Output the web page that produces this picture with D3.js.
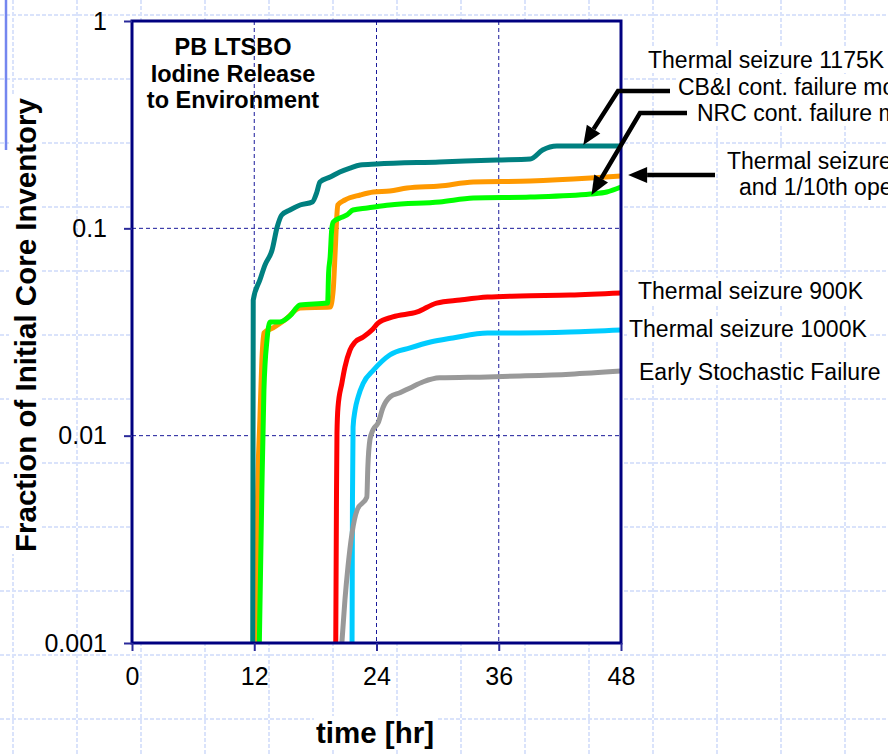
<!DOCTYPE html>
<html>
<head>
<meta charset="utf-8">
<script src="https://cdn.jsdelivr.net/npm/d3@7"></script>
<style>
    body { margin: 0; background: #fff; }
    svg { display: block; font-family: Arial, "Liberation Sans", sans-serif; }
</style>
</head>
<body>
<div class="chart"></div>
<script>
// series, [time hr, fraction of initial core inventory]
const seriesNames = ["Thermal seizure 1000K", "Early Stochastic Failure", "Thermal seizure 900K",
    "1175K, 1/10th open SRV", "1175K, NRC cont. failure model", "1175K, CB&I cont. failure model"];
const seriesColors = ["#00ccff", "#999999", "#ff0000", "#ff9900", "#00ff00", "#008080"];

const seizure1000 = [[21.6, 0.001], [21.64, 0.0049], [21.7, 0.011], [21.9, 0.0133], [22.2, 0.0154],
    [22.7, 0.0179], [23.7, 0.0207], [25.3, 0.0245], [27.3, 0.0265], [29.3, 0.0283], [31.5, 0.0296],
    [34.9, 0.0313], [38.1, 0.0313], [43, 0.0316], [48, 0.0323]];
const stochastic = [[20.6, 0.001], [20.9, 0.00161], [21.2, 0.00233], [21.6, 0.00339], [22.1, 0.00438],
    [23.05, 0.00506], [23.15, 0.00706], [23.35, 0.00953], [23.65, 0.01065], [24.15, 0.0115],
    [24.65, 0.0137], [25.35, 0.0154], [26.3, 0.0161], [27.3, 0.017], [28.6, 0.0182], [30.2, 0.019],
    [34.9, 0.0192], [38.1, 0.0194], [43, 0.0198], [48, 0.0205]];
const seizure900 = [[20.0, 0.001], [20.07, 0.0049], [20.12, 0.0103], [20.22, 0.0137], [20.6, 0.0179],
    [20.9, 0.0214], [21.4, 0.0259], [21.9, 0.0283], [22.7, 0.0299], [23.55, 0.0323], [24.15, 0.0349],
    [25.6, 0.0374], [28, 0.0395], [29.9, 0.0436], [32.2, 0.0451], [34.9, 0.0466], [38.1, 0.0472],
    [43, 0.0477], [48, 0.0488]];
const seizure1175Srv = [[12.22, 0.001], [12.3, 0.0044], [12.55, 0.0119], [12.75, 0.0232], [12.95, 0.0313],
    [13.85, 0.0331], [15.0, 0.0361], [16.5, 0.0413], [19.45, 0.0417], [19.75, 0.0504], [19.95, 0.0786],
    [20.1, 0.1134], [20.2, 0.1296], [20.9, 0.137], [22.4, 0.1448], [23.7, 0.1497], [25.3, 0.1514],
    [27, 0.1564], [30.2, 0.16], [33.5, 0.1673], [39.1, 0.1691], [45, 0.1748], [48, 0.1788]];
const seizure1175Nrc = [[12.5, 0.001], [12.75, 0.0055], [12.95, 0.0166], [13.25, 0.0289], [13.55, 0.0353],
    [14.5, 0.0353], [15.5, 0.0378], [16.5, 0.0427], [19.2, 0.0436], [19.3, 0.0609], [19.45, 0.0727],
    [19.6, 0.0982], [19.75, 0.1073], [20.4, 0.1121], [21.1, 0.116], [21.7, 0.1226], [23.1, 0.1253],
    [25.3, 0.1296], [30.2, 0.134], [33.5, 0.14], [39.1, 0.1416], [45, 0.1464], [46.6, 0.1497], [48, 0.1582]];
const seizure1175Cbi = [[11.85, 0.001], [11.9, 0.0451], [12.55, 0.0563], [13.05, 0.0665], [13.75, 0.0786],
    [14.25, 0.1015], [14.7, 0.116], [15.5, 0.1226], [16.5, 0.1296], [17.7, 0.134], [18.15, 0.1497],
    [18.45, 0.1673], [19.45, 0.1768], [20.4, 0.187], [21.4, 0.1954], [22.4, 0.202], [24, 0.2043],
    [30.2, 0.2089], [35.8, 0.2136], [39.1, 0.216], [40.3, 0.2386], [41.7, 0.2494], [48, 0.2494]];
const seriesValues = [seizure1000, stochastic, seizure900, seizure1175Srv, seizure1175Nrc, seizure1175Cbi];

const xTicks = [0, 12, 24, 36, 48];
const yTicks = [1, 0.1, 0.01, 0.001];
const yTickLabels = ["1", "0.1", "0.01", "0.001"];
const titleLines = ["PB LTSBO", "Iodine Release", "to Environment"];

// label lines on the right, [text, x, baseline]
const sideLabels = [
    ["Thermal seizure 1175K", 648, 68],
    ["CB&I cont. failure model", 678, 95],
    ["NRC cont. failure model", 697, 121],
    ["Thermal seizure 1175K", 727, 169],
    ["and 1/10th open SRV", 739, 195],
    ["Thermal seizure 900K", 638, 299],
    ["Thermal seizure 1000K", 629, 337],
    ["Early Stochastic Failure", 639, 380]
];
// arrows: tip in data units, then the elbow and tail in pixels
const arrows = [
    { tip: [44.3, 0.252], via: [[618, 91], [670, 91]] },
    { tip: [45.1, 0.145], via: [[640, 113], [687, 113]] },
    { tip: [48.7, 0.181], via: [[715, 175]] }
];

const width = 888;
const height = 754;
const plot = { left: 132, right: 621, top: 21, bottom: 643 };

const svg = d3.select(".chart")
    .append("svg")
    .attr("width", width)
    .attr("height", height);

// slide background: light graph paper
const paper = svg.append("g")
    .attr("stroke", "#dae3fb")
    .attr("stroke-width", 2)
    .attr("stroke-dasharray", "4 2");
d3.range(13, width, 64).forEach(gx => {
    paper.append("line").attr("x1", gx).attr("x2", gx).attr("y1", 0).attr("y2", height);
});
d3.range(15, height, 64).forEach(gy => {
    paper.append("line").attr("y1", gy).attr("y2", gy).attr("x1", 0).attr("x2", width);
});
svg.append("line")
    .attr("x1", 6).attr("x2", 6).attr("y1", 0).attr("y2", 150)
    .attr("stroke", "#7486ef").attr("stroke-width", 2.5);

const x = d3.scaleLinear().domain([0, 48]).range([plot.left, plot.right]);
const y = d3.scaleLog().domain([0.001, 1]).range([plot.bottom, plot.top]);

svg.append("rect")
    .attr("x", plot.left).attr("y", plot.top)
    .attr("width", plot.right - plot.left).attr("height", plot.bottom - plot.top)
    .attr("fill", "#fff");

// dashed gridlines inside plot
const grid = svg.append("g")
    .attr("stroke", "#1a1a9a")
    .attr("stroke-width", 1)
    .attr("stroke-dasharray", "4 3");
xTicks.slice(1, -1).forEach(t => {
    grid.append("line").attr("x1", x(t)).attr("x2", x(t)).attr("y1", plot.top).attr("y2", plot.bottom);
});
yTicks.slice(1, -1).forEach(v => {
    grid.append("line").attr("y1", y(v)).attr("y2", y(v)).attr("x1", plot.left).attr("x2", plot.right);
});

// title block
const title = svg.append("text")
    .attr("text-anchor", "middle")
    .attr("font-weight", "bold")
    .attr("font-size", 23.5);
titleLines.forEach((line, i) => {
    title.append("tspan").attr("x", 233).attr("y", 55 + i * 26.5).text(line);
});

// series lines
const lineGen = d3.line()
    .x(d => x(d[0]))
    .y(d => y(d[1]))
    .curve(d3.curveMonotoneX);
svg.append("g")
    .attr("fill", "none")
    .attr("stroke-linejoin", "round")
    .attr("stroke-linecap", "butt")
    .selectAll("path")
    .data(seriesValues)
    .join("path")
    .attr("stroke", (d, i) => seriesColors[i])
    .attr("stroke-width", 5)
    .attr("d", lineGen);

// frame and axes
svg.append("rect")
    .attr("x", plot.left).attr("y", plot.top)
    .attr("width", plot.right - plot.left).attr("height", plot.bottom - plot.top)
    .attr("fill", "none")
    .attr("stroke", "#000080")
    .attr("stroke-width", 3);

const yAxis = svg.append("g")
    .attr("transform", `translate(${plot.left},0)`)
    .call(d3.axisLeft(y).tickValues(yTicks).tickFormat((d, i) => yTickLabels[i])
        .tickSize(8).tickPadding(17));
const xAxis = svg.append("g")
    .attr("transform", `translate(0,${plot.bottom})`)
    .call(d3.axisBottom(x).tickValues(xTicks).tickFormat(d3.format("d"))
        .tickSize(8).tickPadding(16));
[yAxis, xAxis].forEach(ax => {
    ax.select(".domain").remove();
    ax.selectAll("line").attr("stroke", "#2a2a9a").attr("stroke-width", 2);
    ax.selectAll("text")
        .attr("fill", "#000")
        .attr("font-size", 25)
        .attr("font-family", "Arial, 'Liberation Sans', sans-serif");
});

// axis titles
svg.append("text")
    .attr("class", "boxed")
    .attr("transform", "translate(36,325) rotate(-90)")
    .attr("text-anchor", "middle")
    .attr("font-weight", "bold")
    .attr("font-size", 29.5)
    .text("Fraction of Initial Core Inventory");
svg.append("text")
    .attr("class", "boxed")
    .attr("x", 375).attr("y", 743)
    .attr("text-anchor", "middle")
    .attr("font-weight", "bold")
    .attr("font-size", 29.5)
    .text("time [hr]");

// right-hand labels
svg.selectAll("text.side")
    .data(sideLabels)
    .join("text")
    .attr("class", "side boxed")
    .attr("x", d => d[1])
    .attr("y", d => d[2])
    .attr("font-size", 23)
    .text(d => d[0]);

// white boxes behind text sitting on the graph paper
svg.selectAll("text.boxed").each(function () {
    const box = this.getBBox();
    const tr = this.getAttribute("transform");
    d3.select(this.parentNode).insert("rect", () => this)
        .attr("x", box.x - 2).attr("y", box.y)
        .attr("width", box.width + 4).attr("height", box.height)
        .attr("transform", tr)
        .attr("fill", "#fff");
});

// arrows
const arrowGroup = svg.append("g");
arrows.forEach(a => {
    const tip = [x(a.tip[0]), y(a.tip[1])];
    const prev = a.via[0];
    const ang = Math.atan2(tip[1] - prev[1], tip[0] - prev[0]);
    const headLen = 19;
    const headHalf = 8;
    const base = [tip[0] - headLen * Math.cos(ang), tip[1] - headLen * Math.sin(ang)];
    const pts = [...a.via.slice().reverse(), base];
    arrowGroup.append("path")
        .attr("d", d3.line()(pts))
        .attr("fill", "none")
        .attr("stroke", "#000")
        .attr("stroke-width", 4.5);
    const px = -Math.sin(ang) * headHalf;
    const py = Math.cos(ang) * headHalf;
    arrowGroup.append("path")
        .attr("d", d3.line()([tip, [base[0] + px, base[1] + py], [base[0] - px, base[1] - py]]) + "Z")
        .attr("fill", "#000");
});
</script>
</body>
</html>
